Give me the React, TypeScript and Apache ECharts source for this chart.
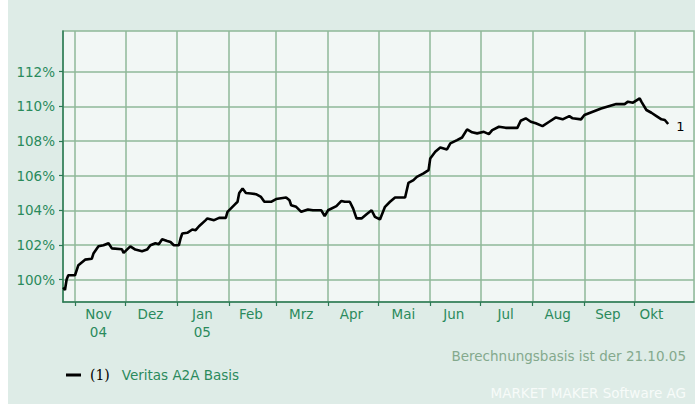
import React, { useEffect, useRef } from "react";
import * as echarts from "echarts";

// ---- data ----
const dates: string[] = [
  "2004-10-25", "2004-10-26", "2004-10-27", "2004-10-28", "2004-11-01", "2004-11-03", "2004-11-07",
  "2004-11-11", "2004-11-12", "2004-11-15", "2004-11-18", "2004-11-21", "2004-11-23", "2004-11-29",
  "2004-11-30", "2004-12-04", "2004-12-07", "2004-12-11", "2004-12-14", "2004-12-16", "2004-12-19",
  "2004-12-21", "2004-12-23", "2004-12-26", "2004-12-28", "2004-12-30", "2005-01-02", "2005-01-03",
  "2005-01-04", "2005-01-07", "2005-01-10", "2005-01-12", "2005-01-14", "2005-01-18", "2005-01-19",
  "2005-01-23", "2005-01-26", "2005-01-30", "2005-01-31", "2005-02-04", "2005-02-06", "2005-02-07",
  "2005-02-09", "2005-02-11", "2005-02-14", "2005-02-17", "2005-02-20", "2005-02-22", "2005-02-26",
  "2005-03-01", "2005-03-07", "2005-03-09", "2005-03-10", "2005-03-13", "2005-03-16", "2005-03-20",
  "2005-03-23", "2005-03-28", "2005-03-30", "2005-04-01", "2005-04-06", "2005-04-09", "2005-04-11",
  "2005-04-14", "2005-04-16", "2005-04-18", "2005-04-21", "2005-04-24", "2005-04-27", "2005-04-29",
  "2005-05-02", "2005-05-05", "2005-05-08", "2005-05-11", "2005-05-17", "2005-05-19", "2005-05-22",
  "2005-05-24", "2005-05-28", "2005-05-31", "2005-06-01", "2005-06-04", "2005-06-07", "2005-06-11",
  "2005-06-13", "2005-06-17", "2005-06-20", "2005-06-23", "2005-06-26", "2005-06-29", "2005-07-03",
  "2005-07-06", "2005-07-08", "2005-07-12", "2005-07-16", "2005-07-23", "2005-07-25", "2005-07-28",
  "2005-07-31", "2005-08-03", "2005-08-07", "2005-08-11", "2005-08-15", "2005-08-19", "2005-08-23",
  "2005-08-25", "2005-08-30", "2005-09-01", "2005-09-06", "2005-09-11", "2005-09-16", "2005-09-20",
  "2005-09-25", "2005-09-27", "2005-09-30", "2005-10-04", "2005-10-05", "2005-10-08", "2005-10-11",
  "2005-10-14", "2005-10-17", "2005-10-19", "2005-10-21",
];
const values: number[] = [
  99.55, 99.4, 100.0, 100.25, 100.25, 100.83, 101.15,
  101.2, 101.5, 101.92, 101.98, 102.1, 101.8, 101.75,
  101.54, 101.92, 101.73, 101.64, 101.73, 101.98, 102.1,
  102.04, 102.33, 102.23, 102.17, 101.98, 101.98, 102.37,
  102.66, 102.7, 102.89, 102.85, 103.08, 103.43, 103.53,
  103.43, 103.56, 103.56, 103.91, 104.3, 104.49, 105.0,
  105.26, 105.0, 104.97, 104.93, 104.77, 104.49, 104.49,
  104.65, 104.74, 104.58, 104.29, 104.2, 103.91, 104.05,
  104.0, 104.0, 103.66, 104.0, 104.24, 104.54, 104.49,
  104.49, 104.1, 103.53, 103.53, 103.77, 104.0, 103.62,
  103.47, 104.2, 104.49, 104.74, 104.74, 105.58, 105.74,
  105.93, 106.13, 106.32, 106.99, 107.38, 107.63, 107.51,
  107.86, 108.05, 108.2, 108.67, 108.5, 108.44, 108.53,
  108.4, 108.63, 108.82, 108.76, 108.76, 109.17, 109.31,
  109.11, 109.02, 108.86, 109.11, 109.36, 109.25, 109.44,
  109.31, 109.25, 109.5, 109.69, 109.88, 110.02, 110.13,
  110.13, 110.27, 110.21, 110.46, 110.27, 109.79, 109.63,
  109.44, 109.25, 109.21, 108.98,
];
const monthStarts: string[] = [
  "2004-11-01", "2004-12-01", "2005-01-01", "2005-02-01", "2005-03-01", "2005-04-01",
  "2005-05-01", "2005-06-01", "2005-07-01", "2005-08-01", "2005-09-01", "2005-10-01",
];
const monthLabelDates: string[] = [
  "2004-11-15", "2004-12-16", "2005-01-16", "2005-02-14", "2005-03-16", "2005-04-15",
  "2005-05-16", "2005-06-15", "2005-07-16", "2005-08-16", "2005-09-15", "2005-10-11",
];
const monthLabels: string[] = [
  "Nov\n04", "Dez", "Jan\n05", "Feb", "Mrz", "Apr", "Mai", "Jun", "Jul", "Aug", "Sep", "Okt",
];
const yTicks: number[] = [100, 102, 104, 106, 108, 110, 112];
const seriesName = "Veritas A2A Basis";
const baseNote = "Berechnungsbasis ist der 21.10.05";
const footer = "MARKET MAKER Software AG";

const ts = (s: string, h = 0) => {
  const [y, m, d] = s.split("-").map(Number);
  return Date.UTC(y, m - 1, d, h);
};

export default function App() {
  const ref = useRef<HTMLDivElement>(null);
  useEffect(() => {
    if (!ref.current) return;
    const chart = echarts.init(ref.current, null, { renderer: "svg" });
    const green = "#2a8a5c";
    const axisGreen = "#2b7a55";
    const gridGreen = "#8fb898";
    const font = "DejaVu Sans";
    const labelTs = monthLabelDates.map((d) => ts(d));
    chart.setOption({
      animation: false,
      backgroundColor: "#deece7",
      grid: {
        left: 55,
        right: 1,
        top: 31,
        bottom: 102,
        show: true,
        backgroundColor: "#f2f7f5",
        borderColor: gridGreen,
        borderWidth: 1.5,
      },
      xAxis: {
        type: "value",
        min: ts("2004-10-24", 20),
        max: ts("2005-11-05", 10),
        axisLine: { show: true, onZero: false, lineStyle: { color: axisGreen, width: 1.5 } },
        axisTick: {
          show: true,
          length: 4,
          customValues: monthStarts.map((d) => ts(d)),
          lineStyle: { color: axisGreen, width: 1.2 },
        },
        splitLine: { show: true, lineStyle: { color: gridGreen, width: 1.5 } },
        axisLabel: {
          customValues: labelTs,
          color: green,
          fontFamily: font,
          fontSize: 13.5,
          lineHeight: 18,
          margin: 3,
          formatter: (v: number) => {
            let best = 0;
            for (let i = 0; i < labelTs.length; i++) {
              if (Math.abs(labelTs[i] - v) < Math.abs(labelTs[best] - v)) best = i;
            }
            return monthLabels[best];
          },
        },
      },
      yAxis: {
        type: "value",
        min: 98.705,
        max: 114.35,
        axisLine: { show: true, onZero: false, lineStyle: { color: axisGreen, width: 1.5 } },
        axisTick: {
          show: true,
          length: 4,
          customValues: yTicks,
          lineStyle: { color: axisGreen, width: 1.2 },
        },
        splitLine: { show: true, lineStyle: { color: gridGreen, width: 1.5 } },
        axisLabel: {
          customValues: yTicks,
          color: green,
          fontFamily: font,
          fontSize: 13.5,
          margin: 8,
          formatter: (v: number) => `${Math.round(v)}%`,
        },
      },
      series: [
        {
          type: "line",
          name: seriesName,
          data: dates.map((d, i) => [ts(d), values[i]]),
          showSymbol: false,
          lineStyle: { color: "#000", width: 2.6 },
          endLabel: {
            show: true,
            formatter: "1",
            color: "#000",
            fontFamily: font,
            fontSize: 13,
            distance: 8,
            offset: [0, 2],
          },
        },
      ],
      graphic: [
        {
          type: "rect",
          shape: { x: 58, y: 373.5, width: 15, height: 3 },
          style: { fill: "#000" },
        },
        {
          type: "text",
          x: 82,
          y: 375,
          style: {
            text: "(1)",
            fill: "#000",
            font: "14px 'DejaVu Serif'",
            verticalAlign: "middle",
          },
        },
        {
          type: "text",
          x: 113.7,
          y: 375,
          style: {
            text: seriesName,
            fill: green,
            font: `13.5px '${font}'`,
            verticalAlign: "middle",
          },
        },
        {
          type: "text",
          x: 678,
          y: 356,
          style: {
            text: baseNote,
            fill: "#84a98d",
            font: `13.5px '${font}'`,
            align: "right",
            verticalAlign: "middle",
          },
        },
        {
          type: "text",
          x: 678,
          y: 393,
          style: {
            text: footer,
            fill: "#f7fbf9",
            font: `13.5px '${font}'`,
            align: "right",
            verticalAlign: "middle",
          },
        },
      ],
    });
    return () => chart.dispose();
  }, []);
  return (
    <div
      ref={ref}
      style={{ position: "absolute", left: 8, top: 0, width: 687, height: 404 }}
    />
  );
}
